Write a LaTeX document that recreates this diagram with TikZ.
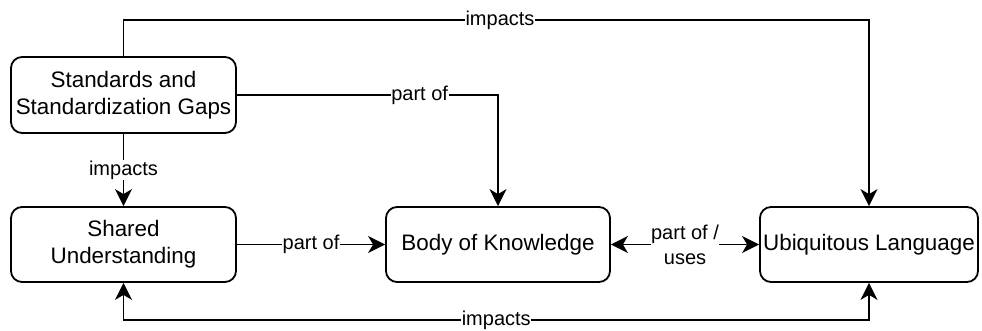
\documentclass[tikz,border=0pt]{standalone}
\usepackage{fontspec}
\setmainfont{Liberation Sans}
\usetikzlibrary{arrows.meta}
\begin{document}
\begin{tikzpicture}[x=1pt,y=-1pt,
  box/.style={draw=black,line width=1.8pt,rounded corners=11pt,align=center,
    font=\fontsize{22.4}{27}\selectfont,inner sep=0pt},
  lbl/.style={fill=white,inner sep=0.5pt,align=center,font=\fontsize{20}{25}\selectfont},
  tip/.style={Stealth[length=17pt,width=17pt,inset=5pt]},
  conn/.style={line width=1.8pt,-{Stealth[length=17pt,width=17pt,inset=5pt]}},
  conn2/.style={line width=1.8pt,{Stealth[length=17pt,width=17pt,inset=5pt]}-{Stealth[length=17pt,width=17pt,inset=5pt]}}]
\useasboundingbox (0,0) rectangle (982,331);
\node[box,minimum width=225pt,minimum height=76pt] (sd) at (123.5,95) {Standards and\\Standardization Gaps};
\node[box,minimum width=225pt,minimum height=75pt] (sh) at (123.5,244.5) {Shared\\Understanding};
\node[box,minimum width=224pt,minimum height=75pt] (bk) at (498,244.5) {Body of Knowledge};
\node[box,minimum width=218pt,minimum height=75pt] (ul) at (869,244.5) {Ubiquitous Language};
\coordinate (t1) at (123.5,20);
\coordinate (t2) at (869,20);
\coordinate (p1) at (498,95);
\coordinate (b1) at (123.5,320);
\coordinate (b2) at (869,320);
\draw[conn] (sd.north) -- (t1) -- node[lbl,pos=0.505]{impacts} (t2) -- (ul.north);
\draw[conn] (sd.east) -- node[lbl,pos=0.7]{part of} (p1) -- (bk.north);
\draw[conn] (sd.south) -- node[lbl]{impacts} (sh.north);
\draw[conn] (sh.east) -- node[lbl]{part of} (bk.west);
\draw[conn2] (bk.east) -- node[lbl]{part of /\\uses} (ul.west);
\draw[conn2] (sh.south) -- (b1) -- node[lbl]{impacts} (b2) -- (ul.south);
\end{tikzpicture}
\end{document}
